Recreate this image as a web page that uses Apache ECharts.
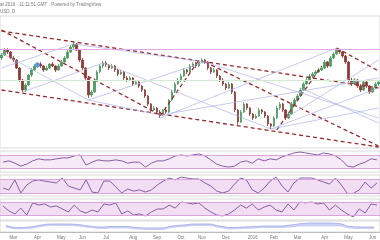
<!DOCTYPE html>
<html><head><meta charset="utf-8">
<script src="https://cdn.jsdelivr.net/npm/echarts@6/dist/echarts.min.js"></script>
<style>html,body{margin:0;padding:0;background:#fff}#c{width:380px;height:240px}</style>
</head><body><div id="c"></div>
<script>
// ---- price candles (arbitrary price units) ----
const opens  = [90,93,98,96,90,88,80,68,58,63,73,78,82,84,82,78,80,84,82,78,82,86,90,96,101,104,98,88,80,70,53,56,68,76,82,85,83,80,82,78,74,76,70,68,70,64,66,62,58,52,44,38,40,36,33,38,36,48,56,64,68,72,78,76,82,84,82,86,88,86,80,76,78,72,68,64,60,64,56,38,26,36,44,40,34,30,32,38,36,32,24,22,30,40,44,38,30,34,44,48,52,58,64,68,72,74,76,78,80,86,82,90,94,98,96,92,86,68,64,68,62,58,66,62,56,60,64];
const closes = [93,98,96,90,88,80,68,58,63,73,78,82,84,82,78,80,84,82,78,82,86,90,96,101,104,98,88,80,70,53,56,68,76,82,85,83,80,82,78,74,76,70,68,70,64,66,62,58,52,44,38,40,36,33,38,36,48,56,64,68,72,78,76,82,84,82,86,88,86,80,76,78,72,68,64,60,64,56,38,26,36,44,40,34,30,32,38,36,32,24,22,30,40,44,38,30,34,44,48,52,58,64,68,72,74,76,78,80,86,82,90,94,98,96,92,86,68,64,68,62,58,66,62,56,60,64,66];
const lows   = [88,92,94,89,86,79,66,56,56,62,71,77,80,80,76,77,79,81,76,77,81,85,89,95,99,97,86,78,68,50,51,55,67,75,80,81,78,79,76,72,73,68,66,67,62,63,60,56,50,42,36,37,34,30,32,34,35,47,55,63,66,71,74,75,81,80,81,85,84,78,74,75,70,66,62,58,59,54,36,23,25,35,38,32,28,29,31,34,30,22,19,21,29,38,36,28,29,33,43,47,51,57,63,67,70,73,75,77,79,80,81,89,93,94,90,84,66,62,63,60,56,57,60,54,55,59,62];
const highs  = [95,100,100,97,92,89,81,69,65,74,80,84,86,86,83,82,85,86,83,84,88,92,98,103,106,105,99,90,81,71,58,70,78,84,87,87,84,84,83,79,78,77,72,72,71,68,67,63,59,53,45,42,41,38,39,40,49,58,66,70,74,80,79,84,86,86,87,90,89,87,81,80,79,73,70,65,66,65,57,39,38,46,45,41,35,34,40,39,37,33,25,32,42,46,45,39,36,46,50,54,60,66,70,74,76,78,80,82,88,87,92,96,100,99,97,93,87,70,70,69,64,68,67,63,62,66,68];

// ---- oscillators ----
const rsi    = [48,52,45,36,42,52,58,55,55,58,61,61,67,70,39,48,55,52,52,55,52,45,48,48,33,45,52,52,58,67,70,67,70,73,67,55,42,36,33,36,48,52,45,58,52,58,55,64,70,76,79,76,73,70,76,73,67,55,36,33,42,48,58,55];
const stochA = [41,33,76,20,54,71,76,71,67,63,84,50,41,33,76,24,20,71,71,46,20,37,28,33,24,33,54,71,84,76,88,84,80,80,63,50,28,20,28,58,84,76,33,20,41,71,88,50,24,63,84,84,84,76,67,58,84,54,18,18,33,67,41,63];
const stochB = [62,39,25,52,20,76,66,71,57,62,48,34,66,39,29,43,34,71,66,76,25,39,20,25,16,34,48,48,66,52,80,76,71,76,52,34,20,16,25,43,66,52,71,43,57,66,43,34,71,43,80,76,80,71,76,43,66,43,25,11,48,29,71,66];
const cloudTop    = [6.5,4.5,5,7,8,8,7.5,6,5,5.5,5.5,4.5,4,4,6,7,8,8,6,4.5,5,5.5,6,6,7,8.5,9,9,8.5,5.5,5,5];
const cloudBottom = [5,3,3.5,5.5,6.5,6.5,6,4.5,3.5,4,4,3,2.5,2.5,4.5,5.5,6.5,6.5,4.5,3,3.5,4,4.5,4.5,5,6,6,6,6,4,3.5,3.5];

// ---- axis tick labels (candle index, text) ----
const tickIdx   = [4,12,20,27,35,44,52,60,67,75,84,91,99,108,116,124];
const tickNames = ['Mar','Apr','May','Jun','Jul','Aug','Sep','Oct','Nov','Dec','2016','Feb','Mar','Apr','May','Jun'];

// ---- drawn trendlines: [[candleIdx, price],[candleIdx, price]] ----
const dashedLines = [
  [[0,117],[126,60]],
  [[0,118],[53,33]],
  [[0,58],[126,1]],
  [[68,86],[126,2]],
  [[92,18],[107,82]],
  [[53,32],[66,88]],
  [[112,100],[126,77]]
];
const lavenderLines = [
  [[0,95],[29,48]],[[7,56],[34,85]],[[29,48],[68,86]],[[24,104],[68,86]],
  [[53,30],[112,100]],[[90,19],[126,40]],[[90,19],[126,60]],[[68,86],[126,30]],
  [[29,48],[53,33]],[[0,80],[24,104]],[[53,33],[126,70]],[[34,85],[90,19]],
  [[100,60],[126,25]],[[95,30],[126,88]]
];
const pinkLevel = 99, greenLevel = 68;
const eventMark = [12,83];

const N = closes.length;
const cats = closes.map((_, i) => String(i));
const oscCats = rsi.map((_, i) => String(i));
const cloudCats = cloudTop.map((_, i) => String(i));
const candles = opens.map((o, i) => [o, closes[i], lows[i], highs[i]]);
const labelMap = {}; tickIdx.forEach((k, j) => labelMap[k] = tickNames[j]);

const ml = (arr, style) => ({
  silent: true, symbol: ['none','none'], label: {show:false}, animation:false,
  lineStyle: style,
  data: arr.map(p => [{coord: p[0]}, {coord: p[1]}])
});

const gridBorder = {show:true, borderColor:'#d9d9d9', borderWidth:1, backgroundColor:'transparent'};
const bandSeries = (xi, yi, data, lo, hi, fill) => ({
  type:'line', xAxisIndex:xi, yAxisIndex:yi, data, symbol:'none', smooth:false,
  lineStyle:{color:'#8a5aa6', width:1}, silent:true,
  markArea:{silent:true, itemStyle:{color:fill}, data:[[{yAxis:lo},{yAxis:hi}]]},
  markLine:{silent:true, symbol:['none','none'], label:{show:false},
    lineStyle:{color:'#dba3dc', type:'solid', width:1}, data:[{yAxis:lo},{yAxis:hi}]}
});

const chart = echarts.init(document.getElementById('c'), null, {renderer:'canvas'});
chart.setOption({
  animation:false,
  graphic:[
    {type:'text', left:0, top:2, style:{text:'ar 2016 · 11:11:51 GMT · Powered by TradingView', font:'4.5px sans-serif', fill:'#777'}},
    {type:'text', left:0, top:9, style:{text:'USD, D', font:'4.5px sans-serif', fill:'#777'}}
  ],
  grid:[
    Object.assign({left:0, right:0, top:16, height:132}, gridBorder),
    Object.assign({left:0, right:0, top:151, height:21}, gridBorder),
    Object.assign({left:0, right:0, top:175, height:21}, gridBorder),
    Object.assign({left:0, right:0, top:199, height:21}, gridBorder),
    Object.assign({left:0, right:0, top:221, height:11}, gridBorder)
  ],
  xAxis:[
    {type:'category', gridIndex:0, data:cats, boundaryGap:true, show:false},
    {type:'category', gridIndex:1, data:oscCats, boundaryGap:true, show:false},
    {type:'category', gridIndex:2, data:oscCats, boundaryGap:true, show:false},
    {type:'category', gridIndex:3, data:oscCats, boundaryGap:true, show:false},
    {type:'category', gridIndex:4, data:cloudCats, boundaryGap:true, show:false},
    {type:'category', gridIndex:4, data:cats, boundaryGap:true, position:'bottom',
      axisLine:{show:true, lineStyle:{color:'#bbb'}}, axisTick:{show:false}, splitLine:{show:false},
      axisLabel:{show:true, interval:(i) => labelMap[i] !== undefined, formatter:(v, i) => labelMap[i] || '',
        fontSize:4.5, color:'#777', margin:3, fontFamily:'sans-serif'}}
  ],
  yAxis:[
    {type:'value', gridIndex:0, min:0, max:132, show:false},
    {type:'value', gridIndex:1, min:18, max:82, show:false},
    {type:'value', gridIndex:2, min:7, max:97, show:false},
    {type:'value', gridIndex:3, min:-3, max:94, show:false},
    {type:'value', gridIndex:4, min:0, max:11, show:false}
  ],
  series:[
    {type:'candlestick', xAxisIndex:0, yAxisIndex:0, data:candles, barWidth:2, silent:true,
      itemStyle:{color:'#4f9a62', color0:'#8e3a36', borderColor:'#4f9a62', borderColor0:'#8e3a36', borderWidth:0.8},
      markLine: ml(dashedLines, {color:'#962a2a', width:1.3, type:[4,3]}),
      markPoint:{silent:true, data:[{coord:eventMark, symbol:'circle', symbolSize:5, itemStyle:{color:'#5f95dd'}, label:{show:false}}]}
    },
    {type:'line', xAxisIndex:0, yAxisIndex:0, data:[], silent:true,
      markLine: ml(lavenderLines, {color:'#aab0e8', width:0.8, type:'solid', opacity:0.85})},
    {type:'line', xAxisIndex:0, yAxisIndex:0, data:[], silent:true,
      markLine:{silent:true, symbol:['none','none'], label:{show:false},
        data:[{yAxis:pinkLevel, lineStyle:{color:'#e3a6e6', width:1, type:'solid'}},
              {yAxis:greenLevel, lineStyle:{color:'#d3ead3', width:1, type:'solid'}}]}},
    bandSeries(1, 1, rsi, 30, 70, 'rgba(225,195,228,0.35)'),
    bandSeries(2, 2, stochA, 20, 80, 'rgba(215,160,220,0.35)'),
    bandSeries(3, 3, stochB, 20, 80, 'rgba(215,160,220,0.35)'),
    {type:'line', xAxisIndex:4, yAxisIndex:4, data:cloudBottom, stack:'cloud', symbol:'none', smooth:true,
      lineStyle:{width:0.6, color:'#b9bfee'}, areaStyle:{opacity:0}, silent:true},
    {type:'line', xAxisIndex:4, yAxisIndex:4, data:cloudTop.map((t, i) => t - cloudBottom[i]), stack:'cloud', symbol:'none', smooth:true,
      lineStyle:{width:0.8, color:'#9ea6e4'}, areaStyle:{color:'#c9cdf3', opacity:0.9}, silent:true}
  ]
});
</script></body></html>
